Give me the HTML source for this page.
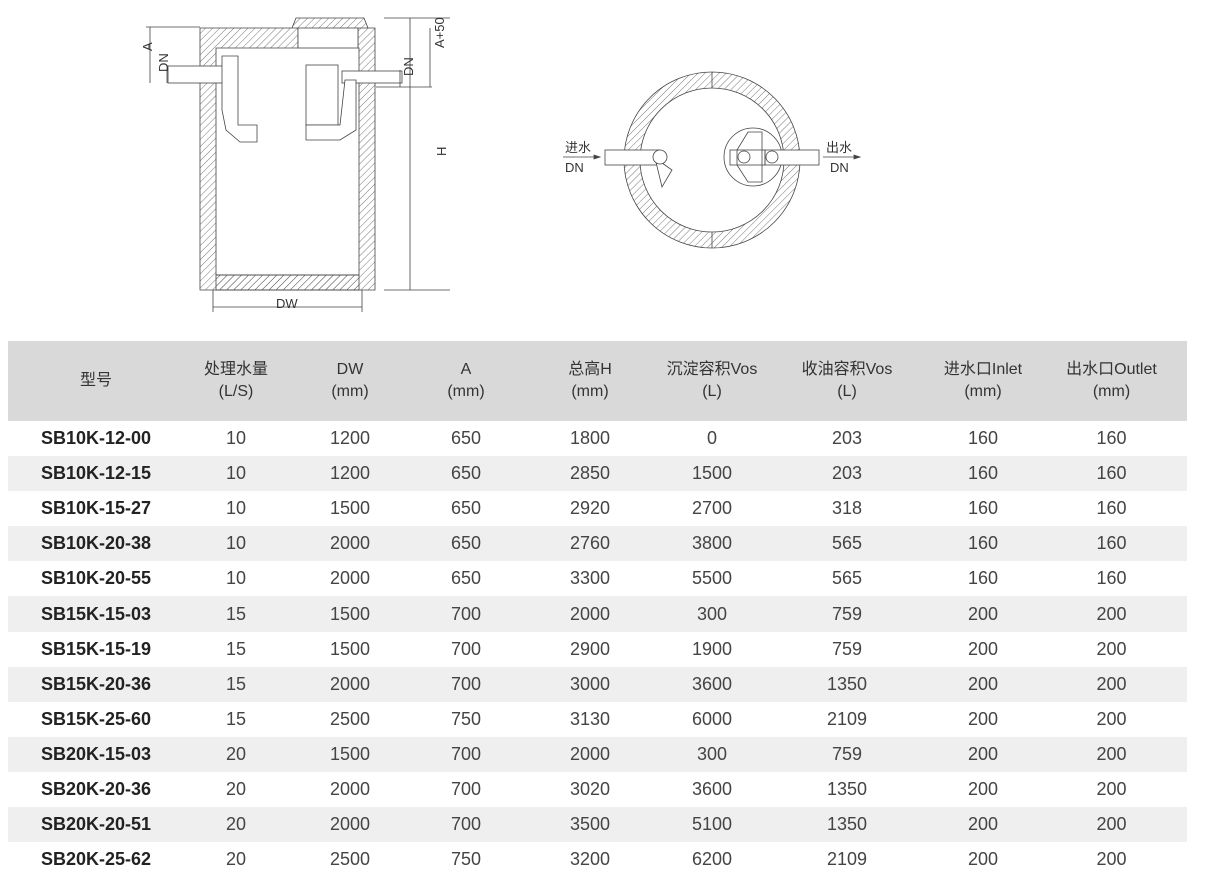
<!DOCTYPE html>
<html><head><meta charset="utf-8"><style>
body{margin:0;width:1209px;height:889px;background:#fff;font-family:"Liberation Sans","Noto Sans CJK SC",sans-serif;color:#222;position:relative;overflow:hidden}
svg{position:absolute;left:0;top:0}
table{position:absolute;left:8px;top:341px;width:1179px;border-collapse:collapse;table-layout:fixed}
th{background:#d9d9d9;font-weight:normal;height:80px;font-size:16px;line-height:22px;color:#333;padding:0}
td{height:35.1px;padding:0;text-align:center;font-size:18px;color:#444;font-weight:300}
td:first-child{font-weight:bold;color:#222}
tr:nth-child(odd) td{background:#efefef}
</style></head><body>
<svg width="1209" height="340" viewBox="0 0 1209 340">
<defs><pattern id="h" width="5" height="5" patternUnits="userSpaceOnUse" patternTransform="rotate(45)"><line x1="0" y1="0" x2="0" y2="5" stroke="#555" stroke-width="0.8"/></pattern></defs>
<g stroke="#444" stroke-width="0.8" fill="none">
<path d="M200,28 H298 V48 H216 V275 H359 V48 H358 V28 H375 V290 H200 Z" fill="url(#h)"/>
<rect x="216" y="275" width="143" height="15" fill="url(#h)"/>
<rect x="298" y="28" width="60" height="20" fill="#fff"/>
<path d="M292,28 L296,18 H364 L368,28" fill="url(#h)"/>
<rect x="168" y="66" width="60" height="17" fill="#fff"/>
<path d="M222,56 H238 V125 L257,125 V142 H240 L226,130 L222,110 Z" fill="#fff"/>
<rect x="342" y="71" width="60" height="12" fill="#fff"/>
<rect x="306" y="65" width="32" height="60" fill="#fff"/>
<path d="M345,80 H356 V130 L340,140 H306 V125 H340 Z" fill="#fff"/>
<path d="M150,27 V83 M146,27 H200 M167,66 V83 M410,18 V290 M430,28 V87 M384,18 H450 M384,290 H450 M213,290 V312 M362,290 V312 M213,307 H362 M376,87 H432 M400,70 V87"/>
</g>
<g font-size="13" fill="#333" font-family="Liberation Sans,sans-serif">
<text x="148" y="55" transform="rotate(-90 148 51)">A</text>
<text x="166" y="82" transform="rotate(-90 162 76)">DN</text>
<text x="410" y="87" transform="rotate(-90 406 80)">DN</text>
<text x="434" y="66" transform="rotate(-90 430 52)">A+50</text>
<text x="440" y="158" transform="rotate(-90 442 154)">H</text>
<text x="276" y="308">DW</text>
</g>
<g stroke="#444" stroke-width="0.8">
<circle cx="712" cy="160" r="80" fill="none" stroke="url(#h)" stroke-width="16"/>
<circle cx="712" cy="160" r="88" fill="none"/>
<circle cx="712" cy="160" r="72" fill="#fff"/>
<line x1="712" y1="72" x2="712" y2="88"/><line x1="712" y1="232" x2="712" y2="248"/>
<circle cx="753" cy="157" r="29" fill="none"/>
<rect x="605" y="150" width="55" height="15" fill="#fff"/>
<path d="M655,158 L672,170 L662,187 Z" fill="#fff"/>
<circle cx="660" cy="157" r="7" fill="#fff"/>
<rect x="765" y="150" width="54" height="15" fill="#fff"/>
<path d="M762,132 V182 H748 L737,165 V150 L748,132 Z" fill="none"/>
<rect x="730" y="150" width="35" height="15" fill="none"/>
<circle cx="744" cy="157" r="6" fill="#fff"/><circle cx="772" cy="157" r="6" fill="#fff"/>
<path d="M563,157 H600 M823,157 H860" /><path d="M600,157 l-6,-2 v4 z M860,157 l-6,-2 v4z" fill="#444"/>
</g>
<g font-size="13" fill="#333"><text x="565" y="152">进水</text><text x="565" y="172">DN</text><text x="826" y="152">出水</text><text x="830" y="172">DN</text></g>
</svg>
<table>
<colgroup><col style="width:176px"><col style="width:104px"><col style="width:124px"><col style="width:108px"><col style="width:140px"><col style="width:104px"><col style="width:166px"><col style="width:106px"><col style="width:151px"></colgroup>
<tr><th>型号</th><th>处理水量<br>(L/S)</th><th>DW<br>(mm)</th><th>A<br>(mm)</th><th>总高H<br>(mm)</th><th>沉淀容积Vos<br>(L)</th><th>收油容积Vos<br>(L)</th><th>进水口Inlet<br>(mm)</th><th>出水口Outlet<br>(mm)</th></tr>
<tr><td>SB10K-12-00</td><td>10</td><td>1200</td><td>650</td><td>1800</td><td>0</td><td>203</td><td>160</td><td>160</td></tr>
<tr><td>SB10K-12-15</td><td>10</td><td>1200</td><td>650</td><td>2850</td><td>1500</td><td>203</td><td>160</td><td>160</td></tr>
<tr><td>SB10K-15-27</td><td>10</td><td>1500</td><td>650</td><td>2920</td><td>2700</td><td>318</td><td>160</td><td>160</td></tr>
<tr><td>SB10K-20-38</td><td>10</td><td>2000</td><td>650</td><td>2760</td><td>3800</td><td>565</td><td>160</td><td>160</td></tr>
<tr><td>SB10K-20-55</td><td>10</td><td>2000</td><td>650</td><td>3300</td><td>5500</td><td>565</td><td>160</td><td>160</td></tr>
<tr><td>SB15K-15-03</td><td>15</td><td>1500</td><td>700</td><td>2000</td><td>300</td><td>759</td><td>200</td><td>200</td></tr>
<tr><td>SB15K-15-19</td><td>15</td><td>1500</td><td>700</td><td>2900</td><td>1900</td><td>759</td><td>200</td><td>200</td></tr>
<tr><td>SB15K-20-36</td><td>15</td><td>2000</td><td>700</td><td>3000</td><td>3600</td><td>1350</td><td>200</td><td>200</td></tr>
<tr><td>SB15K-25-60</td><td>15</td><td>2500</td><td>750</td><td>3130</td><td>6000</td><td>2109</td><td>200</td><td>200</td></tr>
<tr><td>SB20K-15-03</td><td>20</td><td>1500</td><td>700</td><td>2000</td><td>300</td><td>759</td><td>200</td><td>200</td></tr>
<tr><td>SB20K-20-36</td><td>20</td><td>2000</td><td>700</td><td>3020</td><td>3600</td><td>1350</td><td>200</td><td>200</td></tr>
<tr><td>SB20K-20-51</td><td>20</td><td>2000</td><td>700</td><td>3500</td><td>5100</td><td>1350</td><td>200</td><td>200</td></tr>
<tr><td>SB20K-25-62</td><td>20</td><td>2500</td><td>750</td><td>3200</td><td>6200</td><td>2109</td><td>200</td><td>200</td></tr>
</table>
</body></html>
